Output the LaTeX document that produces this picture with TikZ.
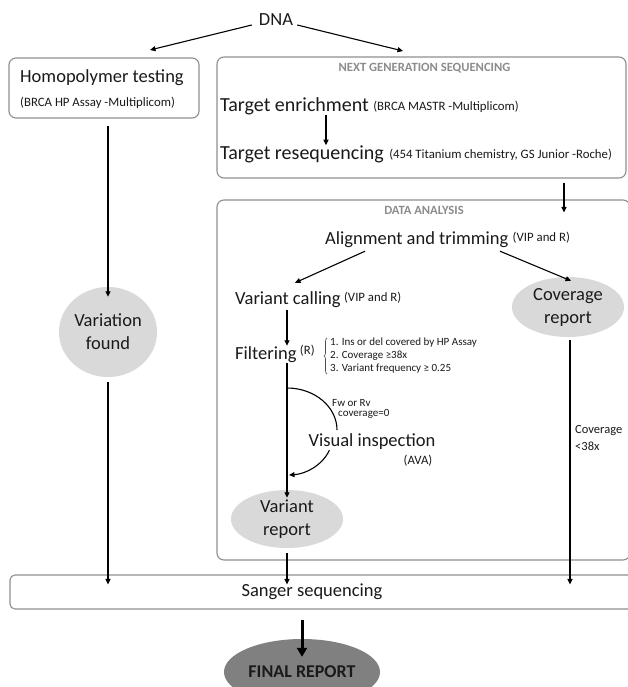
\documentclass[tikz,border=0pt]{standalone}
\usepackage{fontspec}
\setmainfont{Carlito}
\usetikzlibrary{shapes.geometric,arrows.meta,decorations.pathreplacing}
\definecolor{boxgray}{HTML}{8F8F8F}
\definecolor{ovalfill}{HTML}{D9D9D9}
\definecolor{finalgray}{HTML}{808080}
\definecolor{ttlgray}{HTML}{8C8C8C}
\definecolor{txtc}{HTML}{1A1A1A}
\begin{document}
\begin{tikzpicture}[x=1pt,y=-1pt,
  box/.style={draw=boxgray, line width=1.1pt, rounded corners=7pt},
  txt/.style={inner sep=0pt, text=txtc, font=\fontsize{18.5}{22}\selectfont},
  big/.style={inner sep=0pt, text=txtc, font=\fontsize{20}{24}\selectfont},
  sml/.style={inner sep=0pt, text=txtc, font=\fontsize{12.8}{15}\selectfont},
  tiny/.style={inner sep=0pt, text=txtc, font=\fontsize{11}{13}\selectfont},
  ttl/.style={inner sep=0pt, text=ttlgray, font=\bfseries\fontsize{12.6}{15}\selectfont},
  oval/.style={ellipse, fill=ovalfill, inner sep=0pt, align=center, text=txtc, font=\fontsize{18.5}{23}\selectfont},
  conn/.style={draw=black, line width=1.1pt, -{Triangle[length=5.5pt,width=5pt]}},
  plain/.style={draw=black, line width=1.1pt}
]
\useasboundingbox (0,0) rectangle (627,687);
\fill[white] (0,0) rectangle (627,687);

% DNA
\node[txt] (dna) at (276,20) {DNA};
\coordinate (dnaL) at (150,50);
\coordinate (dnaR) at (403,51);
\draw[conn] ([xshift=-7pt,yshift=-5pt]dna.west) -- (dnaL);
\draw[conn] ([xshift=4pt,yshift=-5pt]dna.east) -- (dnaR);

% Homopolymer box
\node[box, minimum width=190pt, minimum height=60pt] (hp) at (104,88) {};
\node[txt, anchor=west] (hpt) at (20,78) {Homopolymer testing};
\node[sml, anchor=west] (hps) at (20,103) {(BRCA HP Assay -Multiplicom)};

% NGS box
\node[box, minimum width=409pt, minimum height=121pt] (ngs) at (421.5,117.5) {};
\node[ttl] (ngst) at (424.5,68) {NEXT GENERATION SEQUENCING};
\node[big, anchor=west] (te) at (220,106) {Target enrichment};
\node[sml, anchor=base west] (tes) at ([xshift=4pt,yshift=1pt]te.base east) {(BRCA MASTR -Multiplicom)};
\node[big, anchor=west] (tr) at (220,154) {Target resequencing};
\node[sml, anchor=base west] (trs) at ([xshift=5pt,yshift=1pt]tr.base east) {(454 Titanium chemistry, GS Junior -Roche)};
\coordinate (xa) at (326,0);
\draw[conn] (te.south -| xa) -- (tr.north -| xa);

% Data analysis box
\node[box, minimum width=413pt, minimum height=360pt] (da) at (423.5,380) {};
\node[ttl] (dat) at (424,210) {DATA ANALYSIS};
\coordinate (xb) at (564,0);
\draw[conn] ([yshift=-4pt]ngs.south -| xb) -- ([yshift=-13pt]da.north -| xb);

\node[txt, anchor=west] (al) at (325,240) {Alignment and trimming};
\node[sml, anchor=base west] (als) at ([xshift=4pt,yshift=3pt]al.base east) {(VIP and R)};
\node[txt, anchor=west] (vc) at (235,300) {Variant calling};
\node[sml, anchor=base west] (vcs) at ([xshift=3pt,yshift=3pt]vc.base east) {(VIP and R)};
\node[txt, anchor=west] (fi) at (235,355) {Filtering};
\node[sml, anchor=base west] (fis) at ([xshift=3pt,yshift=5pt]fi.base east) {(R)};

\node[oval, minimum width=112pt, minimum height=60pt] (cov) at (568,307) {Coverage\\report};

\draw[conn] ([xshift=40pt,yshift=-3pt]al.south west) -- ([xshift=60pt,yshift=9pt]vc.north west);
\draw[conn] ([xshift=175pt,yshift=-3pt]al.south west) -- ([xshift=3pt,yshift=-4pt]cov.north);

\coordinate (xc) at (287,0);
\draw[conn, shorten <=2pt, shorten >=1pt] (vc.south -| xc) -- (fi.north -| xc);

% filter list
\node[anchor=west, inner sep=0pt, align=left, text=txtc, font=\fontsize{11}{13}\selectfont] (lst) at (330,356)
  {1. Ins or del covered by HP Assay\\2. Coverage ≥38x\\3. Variant frequency ≥ 0.25};
\draw[decorate, decoration={brace, amplitude=3pt}, draw=black!70, line width=0.6pt]
  ([xshift=-3pt]lst.south west) -- ([xshift=-3pt]lst.north west);

% variant report
\node[oval, minimum width=112pt, minimum height=58pt] (vr) at (287,519) {Variant\\report};
\draw[conn, shorten >=-8pt] (fi.south -| xc) -- (vr.north);

% visual inspection
\node[txt] (vi) at (372,442) {Visual inspection};
\node[sml] (ava) at (418,461) {(AVA)};
\node[tiny, anchor=west] (fw1) at (332,403) {Fw or Rv};
\node[tiny, anchor=west] (fw2) at (338,414) {coverage=0};
\coordinate (a1) at (287,388);
\coordinate (a2) at (337,430);
\draw[plain] (a1) .. controls (314.6,388) and (337,406.8) .. (a2);
\coordinate (a4) at (289,475);
\draw[conn] ([xshift=21pt]vi.south west) .. controls (322,466) and (305,474) .. (a4);

% left column
\node[oval, minimum width=98pt, minimum height=90pt] (vf) at (108,332) {Variation\\found};
\draw[conn, shorten >=-10pt] ([yshift=-7pt]hp.south -| vf) -- (vf.north);

% Sanger
\node[box, rounded corners=5pt, minimum width=630pt, minimum height=34pt] (sg) at (325,592) {};
\node[txt] (sgt) at (312,592) {Sanger sequencing};
\draw[conn] ([yshift=-5pt]vf.south) -- ([yshift=-10pt]vf.south |- sg.north);
\draw[conn] ([yshift=-5pt]vr.south) -- ([yshift=-10pt]vr.south |- sg.north);
\draw[conn] ([xshift=2pt,yshift=-3pt]cov.south) -- ([xshift=2pt,yshift=-10pt]cov.south |- sg.north);
\node[anchor=west, inner sep=0pt, align=left, text=txtc, font=\fontsize{12.5}{17}\selectfont] (cl) at (575,438) {Coverage\\<38x};

% final report
\node[oval, fill=finalgray, minimum width=156pt, minimum height=66pt, text=txtc, font=\bfseries\fontsize{18}{21}\selectfont] (fr) at (302,672) {FINAL REPORT};
\draw[line width=3pt, -{Triangle[length=9pt,width=10pt]}] ([yshift=-10pt]sg.south -| fr) -- ([yshift=-18pt]fr.north);
\end{tikzpicture}
\end{document}
